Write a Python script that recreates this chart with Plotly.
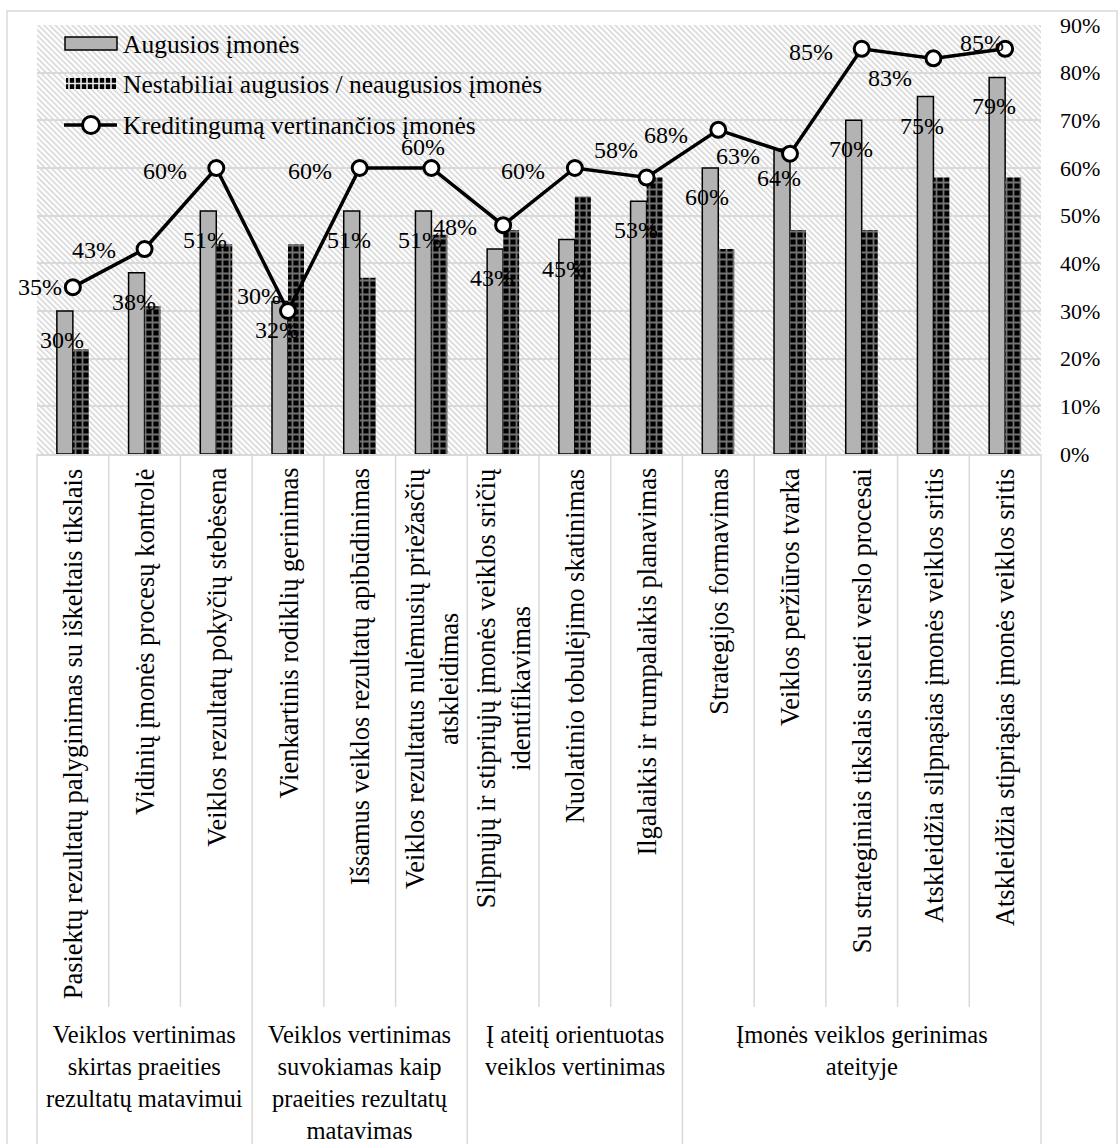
import base64
import plotly.graph_objects as go

# ---- data -------------------------------------------------------------
categories = [
    "Pasiektų rezultatų palyginimas su iškeltais tikslais",
    "Vidinių įmonės procesų kontrolė",
    "Veiklos rezultatų pokyčių stebėsena",
    "Vienkartinis rodiklių gerinimas",
    "Išsamus veiklos rezultatų apibūdinimas",
    "Veiklos rezultatus nulėmusių priežasčių<br>atskleidimas",
    "Silpnųjų ir stipriųjų įmonės veiklos sričių<br>identifikavimas",
    "Nuolatinio tobulėjimo skatinimas",
    "Ilgalaikis ir trumpalaikis planavimas",
    "Strategijos formavimas",
    "Veiklos peržiūros tvarka",
    "Su strateginiais tikslais susieti verslo procesai",
    "Atskleidžia silpnąsias įmonės veiklos sritis",
    "Atskleidžia stipriąsias įmonės veiklos sritis",
]
groups = [
    "Veiklos vertinimas<br>skirtas praeities<br>rezultatų matavimui",
    "Veiklos vertinimas<br>suvokiamas kaip<br>praeities rezultatų<br>matavimas",
    "Į ateitį orientuotas<br>veiklos vertinimas",
    "Įmonės veiklos gerinimas<br>ateityje",
]
group_sizes = [3, 3, 3, 5]

series_names = [
    "Augusios įmonės",
    "Nestabiliai augusios / neaugusios įmonės",
    "Kreditingumą vertinančios įmonės",
]
augusios = [30, 38, 51, 32, 51, 51, 43, 45, 53, 60, 64, 70, 75, 79]
nestabiliai = [22, 31, 44, 44, 37, 46, 47, 54, 58, 43, 47, 47, 58, 58]
kreditingumas = [35, 43, 60, 30, 60, 60, 48, 60, 58, 68, 63, 85, 83, 85]

y_ticks = [0, 10, 20, 30, 40, 50, 60, 70, 80, 90]

# label offsets for the line values (px, screen: +dy = down)
line_label_dx = [-33, -51, -51, -29, -50, -8, -48, -52, -31, -52, -52, -51, -43, -23]
line_label_dy = [0, 1, 3, -15, 3, -21, 2, 3, -28, 5, 2, 3, 20, -6]

# ---- geometry ---------------------------------------------------------
W, H = 1119, 1144
L, R, T, B = 37, 1041, 25, 454          # plot area in px
PW, PH = R - L, B - T
n = len(categories)

def px_x(p):
    return (p - L) / PW

def px_y(p):
    return (B - p) / PH

FONT = "Liberation Serif, Times New Roman, serif"
GRID = "#d9d9d9"

# hatched plot-area background
svg = (
    f'<svg xmlns="http://www.w3.org/2000/svg" width="{PW}" height="{PH}">'
    '<defs><pattern id="h" width="4" height="4" patternUnits="userSpaceOnUse" '
    'patternTransform="rotate(-45)"><rect width="4" height="4" fill="#ffffff"/>'
    '<rect width="1.5" height="4" fill="#d4d4d4"/></pattern></defs>'
    f'<rect width="{PW}" height="{PH}" fill="url(#h)"/></svg>'
)
hatch_src = "data:image/svg+xml;base64," + base64.b64encode(svg.encode()).decode()

fig = go.Figure()

fig.add_trace(go.Bar(
    x=categories, y=augusios, name=series_names[0],
    marker=dict(color="#b3b3b3", line=dict(color="black", width=1.5)),
    showlegend=False,
))
fig.add_trace(go.Bar(
    x=categories, y=nestabiliai, name=series_names[1],
    marker=dict(color="black", line=dict(width=0),
                pattern=dict(shape="+", fgcolor="#e6e6e6", bgcolor="black",
                             size=7, solidity=0.45)),
    showlegend=False,
))
fig.add_trace(go.Scatter(
    x=categories, y=kreditingumas, name=series_names[2],
    mode="lines+markers",
    line=dict(color="black", width=3.5),
    marker=dict(size=15, color="white", line=dict(color="black", width=3)),
    showlegend=False,
))

annotations = []

# value labels for the grey bars
for c, v in zip(categories, augusios):
    annotations.append(dict(
        x=c, y=v, xref="x", yref="y", text=f"{v}%", showarrow=False,
        xshift=-11, yshift=-29, font=dict(family=FONT, size=24, color="black"),
    ))

# value labels for the line
for c, v, dx, dy in zip(categories, kreditingumas, line_label_dx, line_label_dy):
    annotations.append(dict(
        x=c, y=v, xref="x", yref="y", text=f"{v}%", showarrow=False,
        xshift=dx, yshift=-dy, font=dict(family=FONT, size=24, color="black"),
    ))

# rotated category labels
for c in categories:
    annotations.append(dict(
        x=c, y=px_y(466), xref="x", yref="paper", text=c, showarrow=False,
        textangle=-90, yanchor="top", xanchor="center", align="center",
        font=dict(family=FONT, size=26.5, color="black"),
    ))

# group labels
start = 0
for g, size in zip(groups, group_sizes):
    annotations.append(dict(
        x=(start + size / 2) / n, y=px_y(1019), xref="paper", yref="paper",
        text=g, showarrow=False, yanchor="top", xanchor="center", align="center",
        font=dict(family=FONT, size=24.5, color="black"),
    ))
    start += size

# legend text
legend_y = [44, 84, 125]
for name, yy in zip(series_names, legend_y):
    annotations.append(dict(
        x=px_x(121), y=px_y(yy), xref="paper", yref="paper", text=name,
        showarrow=False, xanchor="left", yanchor="middle",
        font=dict(family=FONT, size=25.5, color="black"),
    ))

shapes = []
line_gray = dict(color=GRID, width=1.5)

# category / group separators below the axis
group_edges = {0}
acc = 0
for size in group_sizes:
    acc += size
    group_edges.add(acc)
for k in range(n + 1):
    bottom = 1200 if k in group_edges else 1007
    shapes.append(dict(type="line", xref="paper", yref="paper",
                       x0=k / n, x1=k / n, y0=0, y1=px_y(bottom), line=line_gray))

# outer chart frame
shapes.append(dict(type="rect", xref="paper", yref="paper",
                   x0=px_x(7), x1=px_x(1117), y0=px_y(11), y1=px_y(1200),
                   line=line_gray, fillcolor="rgba(0,0,0,0)", layer="below"))

# legend symbols
shapes.append(dict(type="rect", xref="paper", yref="paper",
                   x0=px_x(65), x1=px_x(117), y0=px_y(50), y1=px_y(37),
                   fillcolor="#b3b3b3", line=dict(color="black", width=1.5)))
shapes.append(dict(type="rect", xref="paper", yref="paper",
                   x0=px_x(66), x1=px_x(116), y0=px_y(89), y1=px_y(78),
                   fillcolor="black", line=dict(width=0)))
grid_path = f"M{px_x(66)},{px_y(83.5)} L{px_x(116)},{px_y(83.5)}"
for xx in range(69, 116, 6):
    grid_path += f" M{px_x(xx)},{px_y(78)} L{px_x(xx)},{px_y(89)}"
shapes.append(dict(type="path", xref="paper", yref="paper", path=grid_path,
                   line=dict(color="#e6e6e6", width=1.6)))
shapes.append(dict(type="line", xref="paper", yref="paper",
                   x0=px_x(64), x1=px_x(117), y0=px_y(125), y1=px_y(125),
                   line=dict(color="black", width=3.5)))
shapes.append(dict(type="circle", xref="paper", yref="paper",
                   x0=px_x(82.5), x1=px_x(99.5), y0=px_y(133.5), y1=px_y(116.5),
                   fillcolor="white", line=dict(color="black", width=3)))

fig.update_layout(
    width=W, height=H,
    margin=dict(l=L, r=W - R, t=T, b=H - B, pad=0),
    paper_bgcolor="white", plot_bgcolor="white",
    barmode="group", bargap=0.554, bargroupgap=0,
    font=dict(family=FONT, color="black"),
    annotations=annotations, shapes=shapes,
    images=[dict(source=hatch_src, xref="paper", yref="paper", x=0, y=1,
                 sizex=1, sizey=1, sizing="stretch", xanchor="left",
                 yanchor="top", layer="below")],
    xaxis=dict(type="category", showticklabels=False, showgrid=False,
               showline=True, linecolor=GRID, linewidth=1.5, ticks="",
               range=[-0.5, n - 0.5], fixedrange=True),
    yaxis=dict(side="right", range=[0, 90], tickvals=y_ticks,
               ticktext=[f"{t}%" for t in y_ticks],
               showgrid=True, gridcolor=GRID, gridwidth=1.5,
               zeroline=False, showline=False, ticks="",
               ticklabelstandoff=18,
               tickfont=dict(family=FONT, size=22, color="black")),
)

fig.write_html("out.html")
